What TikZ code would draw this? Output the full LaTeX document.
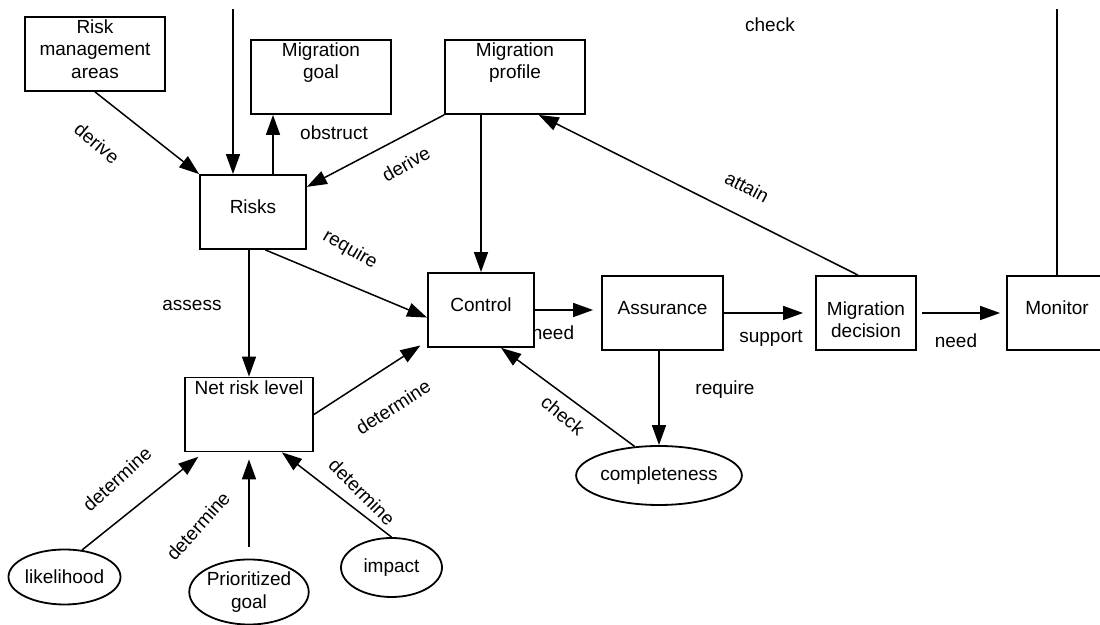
\documentclass[tikz,border=0pt]{standalone}
\usepackage{fontspec}
\setmainfont{Liberation Sans}
\usetikzlibrary{arrows.meta,shapes.geometric}
\tikzset{%
  >={Triangle[length=10pt,width=7pt]}, % default arrow style
  concept/.style={draw, line width=0.9pt, inner sep=0pt, minimum width=#1,
    minimum height=37pt, align=center, text height=19.3pt, text depth=17.7pt},
  concept/.default=53pt,
  % two lines of text at the top of the box
  concepttop/.style={concept=#1, text height=19.5pt, text depth=17.5pt},
  concepttop/.default=70pt,
  property/.style={draw, ellipse, line width=0.9pt, inner sep=0pt, align=center},
  rel/.style={inner sep=1pt},
  link/.style={->, line width=0.75pt}
}

\begin{document}
\begin{tikzpicture}[x=0.5pt,y=-0.5pt,font=\fontsize{9.5}{11.2}\selectfont]
  \useasboundingbox (0,0) rectangle (1100,625);
  \clip (0,0) rectangle (1100,625);
  % boxes
  \node[concepttop, text height=30.7pt, text depth=6.3pt] (areas) at (95,54) {Risk\\management\\areas};
  \node[concepttop] (goal) at (321,77) {Migration\\goal};
  \node[concepttop] (profile) at (515,77) {Migration\\profile};
  \node[concept] (risks) at (253,212) {Risks};
  \node[concept] (control) at (481,310) {Control};
  \node[concept=60.5pt] (assurance) at (662.5,313) {Assurance};
  \node[concept=50pt, text height=31pt, text depth=6pt] (decision) at (866,313) {Migration\\decision};
  \node[concept=50pt] (monitor) at (1057,313) {Monitor};
  \node[concept=64pt, text height=8.3pt, text depth=28.7pt] (netrisk) at (249,414.5) {Net risk level};
  % ellipses
  \node[property, minimum width=50.5pt, minimum height=27.5pt] (likelihood) at (64.5,577) {likelihood};
  \node[property, minimum width=57pt, minimum height=32.5pt] (prioritized) at (249,592) {Prioritized\\goal};
  \node[property, minimum width=50.5pt, minimum height=29.5pt] (impact) at (391.5,567.5) {impact};
  \node[property, minimum width=69pt, minimum height=29.5pt] (completeness) at (659,475.5) {completeness};
  % free ends
  \coordinate (checkin) at (233,9);
  \coordinate (checkout) at (monitor.north |- checkin);
  \coordinate (riskstop) at ([xshift=10pt]risks.north);
  % arrows
  \draw[link] (checkin) -- (checkin |- risks.north);
  \draw[line width=0.75pt] (monitor.north) -- (checkout);
  \draw[link] (areas.south) -- (risks.north west);
  \draw[link] (riskstop) -- (riskstop |- goal.south);
  \draw[link] (profile.south west) -- (risks.25);
  \draw[link] (profile.south -| control.north) -- (control.north);
  \draw[link] (risks.-72) -- (control.-172);
  \draw[link] (netrisk.north |- risks.south) -- (netrisk.north);
  \draw[link, shorten >=4pt] (netrisk.east) -- (control.-150);
  \draw[link, shorten >=4pt] (control.east) -- (control.east -| assurance.west);
  \draw[link, shorten >=6pt] (assurance.east) -- (decision.west);
  \draw[link, shorten <=2.5pt, shorten >=3pt] (decision.east) -- (monitor.west);
  \draw[link] ([xshift=-4pt]decision.north) -- (profile.-58);
  \draw[link] (completeness.north |- assurance.south) -- (completeness.north);
  \draw[link] (completeness.130) -- (control.-62);
  \draw[link, shorten >=3.5pt] (likelihood.57) -- (netrisk.-140);
  \draw[link, shorten <=6pt, shorten >=3.5pt] (prioritized.north) -- (netrisk.south);
  \draw[link] (impact.north) -- (netrisk.-49);
  % labels
  \node[rel, rotate=-40] (l-derive-areas) at (97,143) {derive};
  \node[rel] (l-obstruct) at (334,133) {obstruct};
  \node[rel, rotate=30] (l-derive-profile) at (406,164) {derive};
  \node[rel, rotate=-30] (l-require-risks) at (350,250) {require};
  \node[rel] (l-assess) at (192,305) {assess};
  \node[rel] (l-check-monitor) at (770,25) {check};
  \node[rel, rotate=-28] (l-attain) at (747,187) {attain};
  \node[rel] (l-need-control) at (553,333) {need};
  \node[rel] (l-support) at (771,338) {support};
  \node[rel] (l-need-decision) at (956,341) {need};
  \node[rel] (l-require-assurance) at (725,390) {require};
  \node[rel, rotate=-40] (l-check-complete) at (563,415) {check};
  \node[rel, rotate=33] (l-determine-net) at (393,407) {determine};
  \node[rel, rotate=42] (l-determine-likely) at (117,479) {determine};
  \node[rel, rotate=48] (l-determine-goal) at (198,526) {determine};
  \node[rel, rotate=-45] (l-determine-impact) at (362,492) {determine};
\end{tikzpicture}
\end{document}
